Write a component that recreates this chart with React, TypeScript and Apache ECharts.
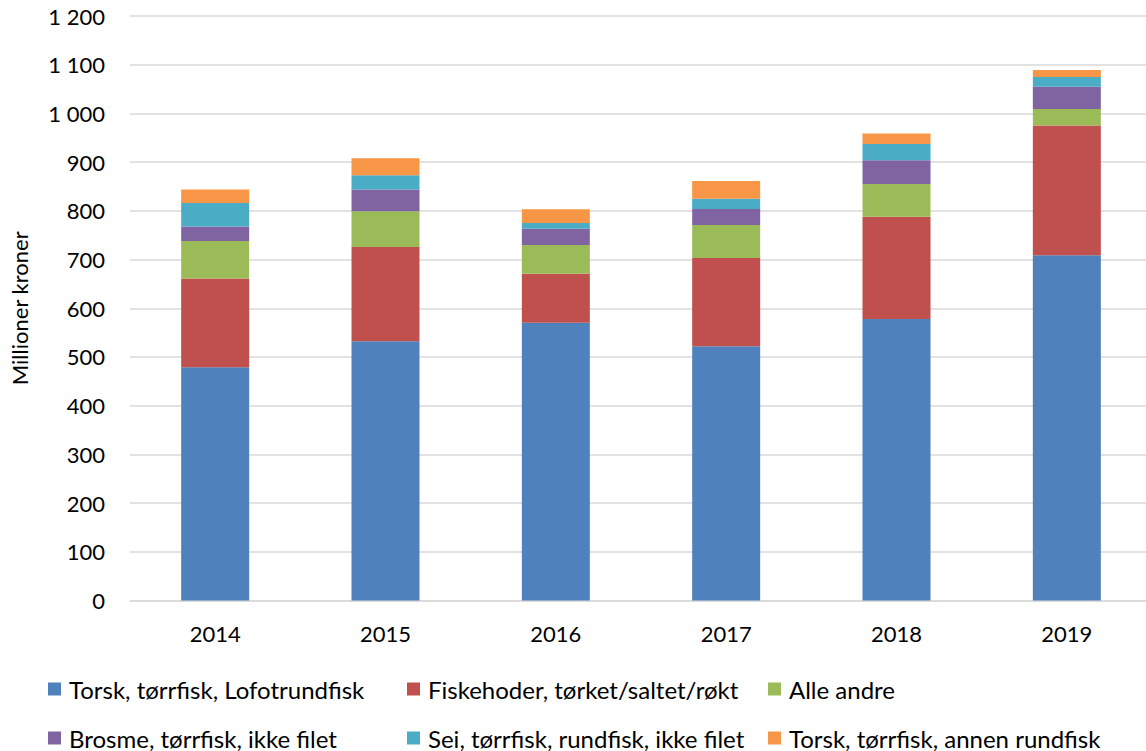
import React, { useEffect, useRef } from "react";
import * as echarts from "echarts";

const categories = ["2014", "2015", "2016", "2017", "2018", "2019"];
const seriesNames = [
  "Torsk, tørrfisk, Lofotrundfisk",
  "Fiskehoder, tørket/saltet/røkt",
  "Alle andre",
  "Brosme, tørrfisk, ikke filet",
  "Sei, tørrfisk, rundfisk, ikke filet",
  "Torsk, tørrfisk, annen rundfisk",
];
const torskLofot = [479, 532, 570, 522, 578, 709];
const fiskehoder = [182, 194, 101, 181, 210, 266];
const alleAndre = [77, 73, 59, 68, 67, 34];
const brosme = [30, 45, 33, 33, 49, 46];
const sei = [48, 29, 12, 21, 33, 20];
const torskAnnen = [28, 35, 28, 36, 22, 14];
const seriesValues = [torskLofot, fiskehoder, alleAndre, brosme, sei, torskAnnen];
const colors = ["#4F81BD", "#C0504D", "#9BBB59", "#8064A2", "#4BACC6", "#F79646"];

const FONT = "Lato";
const legendPos = [
  { left: 48, top: 677 },
  { left: 407, top: 677 },
  { left: 768, top: 677 },
  { left: 48, top: 726 },
  { left: 407, top: 726 },
  { left: 768, top: 726 },
];

export default function App() {
  const ref = useRef<HTMLDivElement>(null);
  useEffect(() => {
    if (!ref.current) return;
    const chart = echarts.init(ref.current, null, { renderer: "svg" });
    chart.setOption({
      animation: false,
      color: colors,
      textStyle: { fontFamily: FONT },
      grid: { left: 130, top: 16, width: 1022, height: 584.5, outerBoundsMode: "none", containLabel: false },
      legend: seriesNames.map((n, i) => ({
        data: [n],
        left: legendPos[i].left,
        top: legendPos[i].top,
        padding: 0,
        itemWidth: 13,
        itemHeight: 13,
        icon: "rect",
        textStyle: { fontFamily: FONT, fontSize: 24, color: "#000", padding: [0, 0, 0, 3] },
      })),
      xAxis: {
        type: "category",
        data: categories,
        axisLine: { show: true, lineStyle: { color: "#D9D9D9", width: 1.5 } },
        axisTick: { show: false },
        axisLabel: { fontFamily: FONT, fontSize: 22, color: "#000", margin: 22 },
      },
      yAxis: {
        type: "value",
        min: 0,
        max: 1200,
        interval: 100,
        name: "Millioner kroner",
        nameLocation: "middle",
        nameRotate: 90,
        nameGap: 100,
        nameTextStyle: { fontFamily: FONT, fontSize: 22, color: "#000" },
        axisLine: { show: false },
        axisTick: { show: false },
        splitLine: { lineStyle: { color: "#D9D9D9", width: 1.5 } },
        axisLabel: {
          fontFamily: FONT,
          fontSize: 22,
          color: "#000",
          margin: 25,
          formatter: (v: number) => String(v).replace(/\B(?=(\d{3})+(?!\d))/g, " "),
        },
      },
      series: seriesNames.map((n, i) => ({
        name: n,
        type: "bar",
        stack: "total",
        barWidth: 68,
        data: seriesValues[i],
        itemStyle: { color: colors[i] },
      })),
    });
    return () => chart.dispose();
  }, []);
  return (
    <div
      ref={ref}
      style={{ position: "fixed", left: 0, top: 0, width: 1146, height: 751, background: "#fff" }}
    />
  );
}
